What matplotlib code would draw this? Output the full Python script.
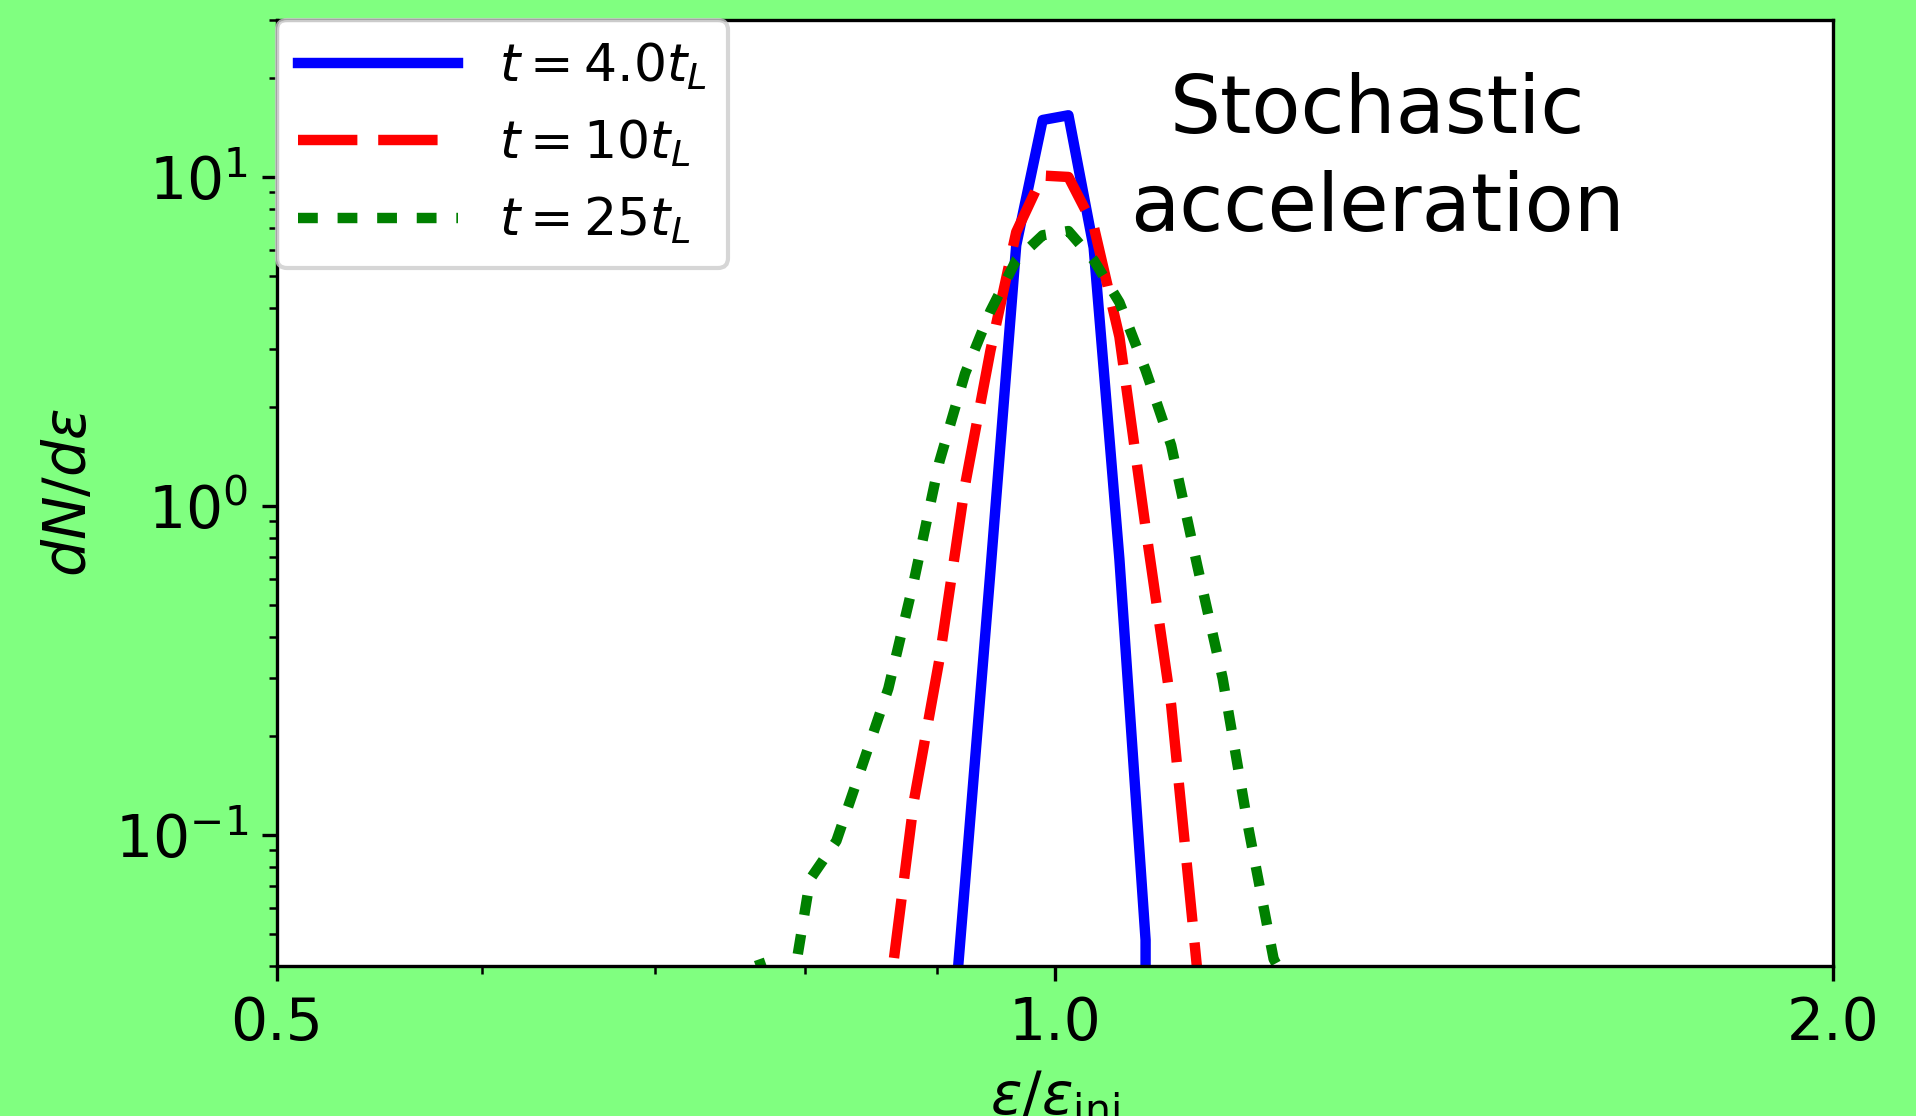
import numpy as np
import matplotlib
matplotlib.use("Agg")
import matplotlib.pyplot as plt
from matplotlib.ticker import NullFormatter

# energy bins (eps / eps_inj)
energy = [0.751, 0.768, 0.786, 0.804, 0.823, 0.842, 0.862, 0.882, 0.902, 0.923, 0.944, 0.966,
          0.989, 1.012, 1.035, 1.059, 1.084, 1.109, 1.135, 1.161, 1.188, 1.215, 1.244]

# dN/deps at the three times
dn_t4 = [0, 0, 0, 0, 0, 0, 0, 0, 0.008, 0.072, 0.63, 6.2,
         14.9, 15.4, 6.1, 0.69, 0.048, 0, 0, 0, 0, 0, 0]
dn_t10 = [0, 0, 0, 0, 0, 0.008, 0.031, 0.128, 0.34, 1.16, 2.96, 6.8,
          10.1, 10.0, 7.1, 3.27, 0.86, 0.248, 0.039, 0.006, 0, 0, 0]
dn_t25 = [0, 0.042, 0.025, 0.0735, 0.096, 0.162, 0.279, 0.596, 1.36, 2.53, 3.91, 5.59,
          6.65, 6.85, 5.59, 4.16, 2.59, 1.53, 0.661, 0.30, 0.105, 0.042, 0.03]

labels = [r"$t=4.0t_L$", r"$t=10t_L$", r"$t=25t_L$"]

fig = plt.figure(figsize=(1916 / 300, 1116 / 300), dpi=300, facecolor="#80ff80")
ax = fig.add_axes([0.1446, 0.1344, 0.8121, 0.8477])

ax.plot(energy, dn_t4, color="blue", lw=2.5, label=labels[0])
ax.plot(energy, dn_t10, color="red", lw=2.5, dashes=(5.7, 2.0), label=labels[1])
ax.plot(energy, dn_t25, color="green", lw=2.5, dashes=(1.9, 1.9), label=labels[2])

ax.set_xscale("log")
ax.set_yscale("log")
ax.set_xlim(0.5, 2.0)
ax.set_ylim(0.04, 30)

ax.set_xticks([0.5, 1.0, 2.0])
ax.set_xticklabels(["0.5", "1.0", "2.0"])
ax.xaxis.set_minor_formatter(NullFormatter())
ax.tick_params(labelsize=14)

ax.set_xlabel(r"$\varepsilon/\varepsilon_{\rm inj}$", fontsize=14)
ax.set_ylabel(r"$dN/d\varepsilon$", fontsize=14)

ax.text(0.7075, 0.852, "Stochastic\nacceleration", transform=ax.transAxes,
        ha="center", va="center", fontsize=19.3, linespacing=1.32)

ax.legend(loc="upper left", fontsize=12.5, borderaxespad=0, handlelength=3.07,
          handletextpad=0.8)

fig.savefig("out.png", dpi=300)
